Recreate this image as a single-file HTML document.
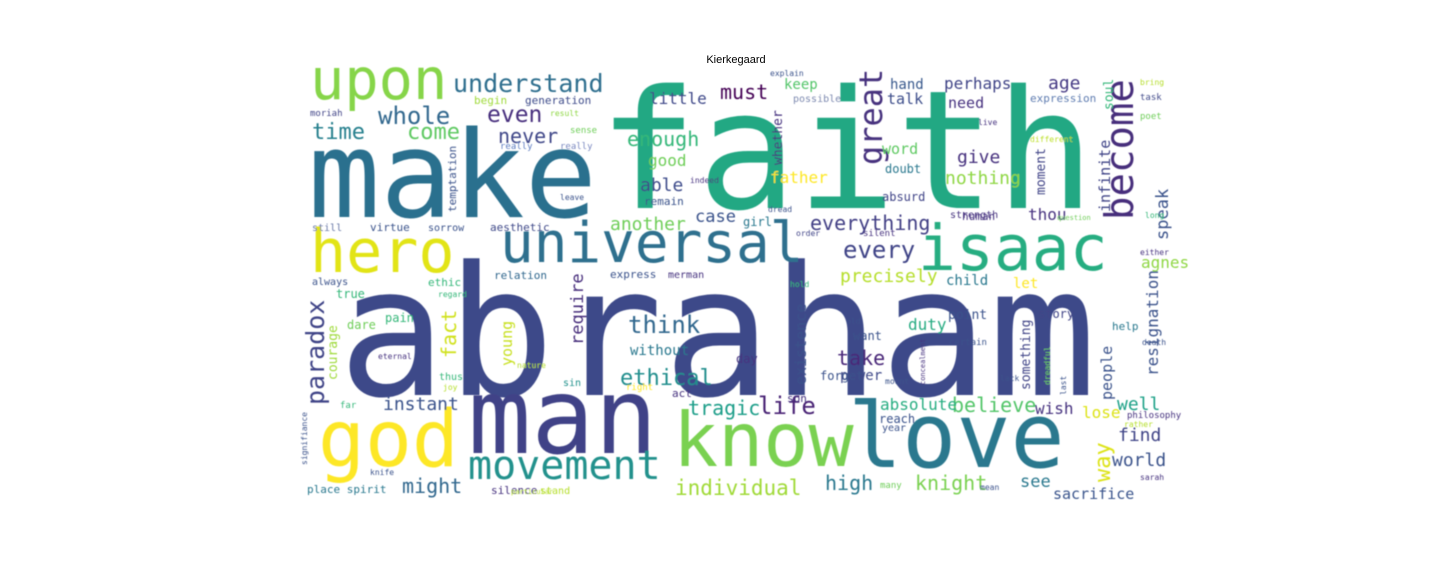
<!DOCTYPE html>
<html><head><meta charset="utf-8"><style>
html,body{margin:0;padding:0;background:#fff;width:1440px;height:576px;overflow:hidden}
svg{display:block}
text{font-family:"DejaVu Sans Mono","Liberation Mono",monospace}
</style></head><body>
<svg id="cloud" width="1440" height="576" viewBox="0 0 1440 576" xmlns="http://www.w3.org/2000/svg">
<text x="736" y="63" text-anchor="middle" font-family="Liberation Sans, sans-serif" font-size="11" fill="#000" style="font-family:'Liberation Sans',sans-serif">Kierkegaard</text>
<g id="words" filter="url(#soft)"></g>
<defs><filter id="soft"><feGaussianBlur stdDeviation="0.5"/></filter></defs>
</svg>
<script>
// word cloud data: words, weights (font size), colors
const words = ["faith","abraham","make","upon","understand","hero","universal","isaac","man","god","know","love","movement","great","become","paradox","resignation","way","infinite","speak","whole","time","come","even","never","little","must","enough","good","able","another","case","keep","hand","perhaps","age","talk","need","possible","expression","task","poet","soul","whether","word","give","nothing","father","doubt","absurd","everything","thou","every","precisely","girl","moment","think","require","fact","courage","young","without","ethical","instant","tragic","life","might","individual","high","knight","see","sacrifice","world","find","well","lose","wish","believe","absolute","take","power","duty","point","existence","something","people","let","agnes","child","place spirit","silence","stand","far","pain","dare","always","ethic","begin","generation","moriah","result","sense","really","really","temptation","still","virtue","sorrow","aesthetic","relation","express","merman","explain","different","indeed","remain","leave","dread","human","silent","order","strength","question","long","live","bring","either","old","want","day","story","son","forget","reach","year","philosophy","rather","last","help","death","sarah","many","mean","eternal","thus","sin","act","true","regard","nature","signifiance","knife","particular","joy","right","hold","certain","dreadful","lack","mount","concealment"];
const weights = [165,180,120,57,25,60,56,63,105,78,75,90,40,32,39,25,16,22,15,17,24,22,22,23,20,16,20,20,16,18,18,17,14,14,16,18,15,15,10,11,9,9,13,13,15,18,18,16,12,12,20,16,24,18,12,13,24,17,20,13,15,14,22,18,20,24,20,21,20,20,17,15,18,18,18,16,16,20,16,20,14,16,13,15,13,15,14,16,14,11,11,10,9,12,12,10,11,11,11,9,8,9,9,9,11,10,11,10,11,11,11,10,8,8,8,11,8,8,11,9,8,10,7,8,8,8,8,8,12,12,12,11,12,12,10,9,8,8,11,8,8,9,8,8,10,10,11,12,8,8,8,8,7,8,9,8,9,8,8,8,7,7];
const colors = ["#23a883","#3e4a89","#2c6f8e","#86d549","#2e6e8e","#e2e418","#2d708e","#27ad81","#404387","#fde725","#7ad151","#2a788e","#21918c","#46327e","#472d7b","#414487","#3b528b","#dde318","#414487","#3b528b","#31688e","#27808e","#5ec962","#472f7d","#3f4788","#404a89","#440154","#35b779","#6ece58","#3e4c8a","#6ece58","#3b528b","#52c569","#38598c","#414487","#443983","#3d4e8a","#46337f","#7e8ab0","#5e7cb0","#404a89","#6ece58","#35b779","#46337f","#5ec962","#46307e","#8fd744","#fde725","#2a788e","#414487","#423f85","#46337f","#414487","#b5de2b","#2a788e","#414487","#31688e","#472d7b","#d0e11c","#9fda3a","#c8e020","#2a788e","#218e8d","#3b528b","#1f9e89","#482475","#31688e","#a0da39","#2a788e","#7ad151","#2a788e","#3a548c","#3b528b","#414487","#1fa187","#dde318","#46337f","#52c569","#27ad81","#482878","#404a89","#25ab82","#3b528b","#3b528b","#414487","#3b528b","#fde725","#8fd744","#2a788e","#2a788e","#46337f","#b5de2b","#35b779","#35b779","#6ece58","#3b528b","#35b779","#9fda3a","#3e4c8a","#414487","#8fd744","#6ece58","#5c7cc0","#7a88c0","#3b528b","#6a7aa8","#3b528b","#3b528b","#404a89","#31688e","#3b528b","#46337f","#3b528b","#bbdf27","#46337f","#3b528b","#3b528b","#3b528b","#46337f","#46337f","#414487","#46337f","#6ece58","#35b779","#46337f","#b5de2b","#46337f","#3b528b","#3b528b","#46337f","#414487","#46337f","#3b528b","#3b528b","#3b528b","#46337f","#b5de2b","#3b528b","#2a788e","#3b528b","#46337f","#6ece58","#3b528b","#46337f","#35b779","#21918c","#46337f","#35b779","#35b779","#b5de2b","#3b528b","#3b528b","#b5de2b","#b5de2b","#fde725","#35b779","#3b528b","#6ece58","#3b528b","#3b528b","#46337f"];
// layout: [x, baseline y, rotated(1 = vertical bottom-to-top)]
const layout = [[598,208,0],[338,395,0],[308,217,0],[310,99,0],[453,92,0],[310,272,0],[500,262,0],[918,270,0],[468,453,0],[318,466,0],[673,466,0],[848,467,0],[468,479,0],[882,165,1],[1133,220,1],[324,405,1],[1158,376,1],[1110,482,1],[1110,212,1],[1168,240,1],[378,124,0],[312,139,0],[407,139,0],[487,122,0],[498,143,0],[649,104,0],[720,99,0],[627,146,0],[648,166,0],[640,191,0],[610,230,0],[695,222,0],[784,89,0],[890,89,0],[944,89,0],[1048,89,0],[887,104,0],[948,108,0],[793,102,0],[1030,102,0],[1140,100,0],[1140,119,0],[1113,110,1],[782,165,1],[882,154,0],[957,163,0],[945,184,0],[770,183,0],[885,173,0],[882,201,0],[810,230,0],[1028,220,0],[843,258,0],[840,282,0],[743,226,0],[1045,195,1],[628,333,0],[583,345,1],[456,358,1],[337,380,1],[512,366,1],[630,355,0],[620,385,0],[383,410,0],[688,415,0],[758,414,0],[402,493,0],[675,495,0],[825,490,0],[915,490,0],[1020,487,0],[1053,499,0],[1112,466,0],[1118,441,0],[1117,410,0],[1082,418,0],[1035,414,0],[952,412,0],[880,410,0],[837,365,0],[840,380,0],[908,330,0],[948,319,0],[806,385,1],[1030,390,1],[1112,400,1],[1013,288,0],[1141,268,0],[946,285,0],[307,493,0],[491,494,0],[540,494,0],[340,408,0],[385,322,0],[347,329,0],[312,285,0],[428,286,0],[474,104,0],[525,104,0],[310,116,0],[550,116,0],[570,133,0],[500,149,0],[560,149,0],[456,212,1],[312,231,0],[370,231,0],[428,231,0],[490,231,0],[494,279,0],[610,278,0],[668,278,0],[770,76,0],[1030,142,0],[690,183,0],[644,205,0],[560,200,0],[768,212,0],[962,220,0],[863,236,0],[796,236,0],[950,218,0],[1057,220,0],[1145,218,0],[978,125,0],[1140,85,0],[1140,255,0],[846,324,0],[853,340,0],[736,363,0],[1038,318,0],[787,402,0],[820,380,0],[879,423,0],[882,431,0],[1127,418,0],[1124,427,0],[1066,395,1],[1112,330,0],[1142,345,0],[1140,480,0],[880,488,0],[980,490,0],[378,359,0],[439,380,0],[563,386,0],[672,397,0],[336,298,0],[438,297,0],[517,368,0],[307,465,1],[370,475,0],[511,494,0],[443,390,0],[626,390,0],[790,287,0],[949,345,0],[1050,385,1],[1000,381,0],[885,384,0],[925,385,1]];
const g = document.getElementById('words');
const NS = 'http://www.w3.org/2000/svg';
for (let i = 0; i < words.length; i++) {
  const L = layout[i] || [0,0,0];
  const t = document.createElementNS(NS, 'text');
  
  
  t.setAttribute('font-size', weights[i]);
  t.setAttribute('fill', colors[i] || '#3b528b');
  if (L[2]) {
    t.setAttribute('transform', 'translate(' + L[0] + ',' + L[1] + ') rotate(-90)');
    t.setAttribute('x', 0); t.setAttribute('y', 0);
  } else {
    t.setAttribute('x', L[0]); t.setAttribute('y', L[1]);
  }
  t.textContent = words[i];
  g.appendChild(t);
}
</script>
</body></html>
